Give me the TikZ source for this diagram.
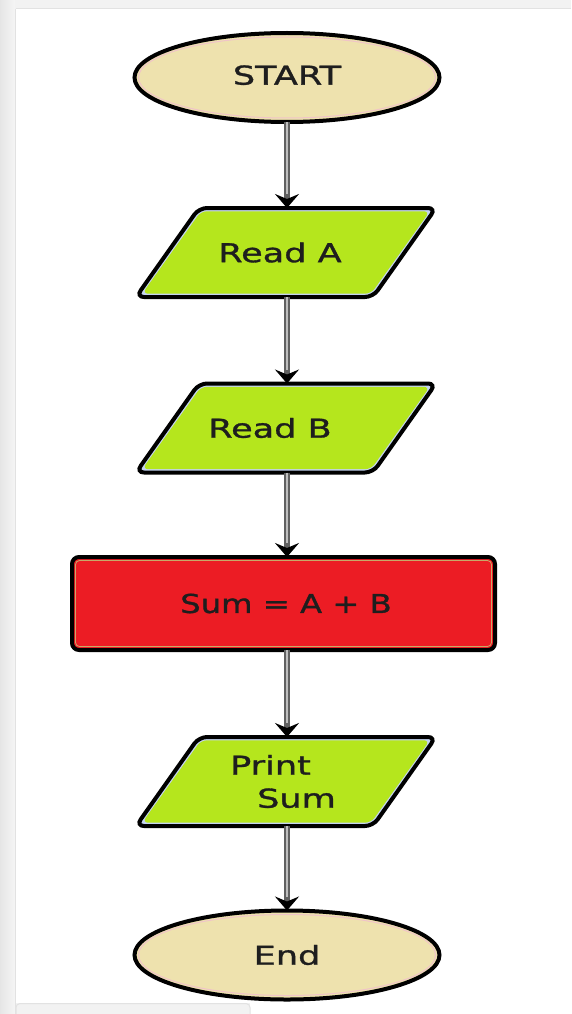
\documentclass[tikz,border=0pt]{standalone}
\usepackage{fontspec}
\setmainfont{DejaVu Sans}
\newfontfamily\dfont[FakeStretch=1.35,FakeBold=1.2]{DejaVu Sans}
\newfontfamily\dfontn[FakeStretch=1.24,FakeBold=1.2]{DejaVu Sans}
\usetikzlibrary{shapes.geometric,arrows.meta}
\definecolor{termfill}{HTML}{EEE2AE}
\definecolor{termedge}{HTML}{F0C4C8}
\definecolor{iofill}{HTML}{B5E61D}
\definecolor{ioedge}{HTML}{C4D4F0}
\definecolor{procfill}{HTML}{EC1C24}
\definecolor{procedge}{HTML}{C8A868}
\definecolor{shaftdark}{HTML}{606060}
\definecolor{shaftlight}{HTML}{BEBEBE}
\definecolor{textc}{HTML}{1E1E1E}
\definecolor{framegray}{HTML}{F2F2F2}
\definecolor{frameline}{HTML}{E2E2E2}
\tikzset{
  term/.style={ellipse, minimum width=305pt, minimum height=89pt, inner sep=0pt, outer sep=0pt,
    draw=black, line width=4pt, fill=termfill, text=textc, font=\dfont\fontsize{26}{30}\selectfont},
  io/.style={rectangle, minimum width=237pt, minimum height=89pt, inner sep=0pt, outer sep=0pt,
    text=textc, font=\dfont\fontsize{26}{33}\selectfont},
  proc/.style={rectangle, rounded corners=7pt, minimum width=423pt, minimum height=93pt, inner sep=0pt,
    outer sep=0pt, draw=black, line width=4pt, fill=procfill, text=textc, font=\dfontn\fontsize{26}{30}\selectfont},
  arr/.style={draw=shaftdark, line width=5.5pt, -{Stealth[black, width=24pt, length=14pt, inset=5pt]},
    postaction={draw=shaftlight, line width=2.2pt, -, shorten >=14pt}},
}
\newcommand\paragram[1]{%
  \begin{scope}[shift={(#1)}]
    \draw[line width=4pt, rounded corners=8pt, fill=ioedge]
      (-87,-44.5) -- (150,-44.5) -- (87,44.5) -- (-150,44.5) -- cycle;
    \fill[iofill, rounded corners=6pt]
      (-85.0,-41.2) -- (143.8,-41.2) -- (85.0,41.2) -- (-143.8,41.2) -- cycle;
  \end{scope}}
\begin{document}
\begin{tikzpicture}[x=1pt, y=-1pt]
\useasboundingbox (0,0) rectangle (571,1014);
% screenshot frame
\fill[framegray] (0,0) rectangle (571,1014);
\shade[left color=black!10, right color=black!4] (0,0) rectangle (15,1014);
\fill[white] (16,9) rectangle (571,1003);
\fill[white] (250,1003) rectangle (571,1014);
\draw[frameline, line width=1pt] (16,8.5) -- (571,8.5);
\draw[frameline, line width=1pt] (15.5,9) -- (15.5,1014);
\draw[frameline, line width=1pt, fill=framegray, rounded corners=4pt] (16,1014) -- (16,1003.5) -- (250,1003.5) -- (250,1014);

% shapes of the input/output boxes
\paragram{286,252.5}
\paragram{286,428}
\paragram{286,781.5}

% nodes
\node[term] (start) at (287,77.5) {\raisebox{5pt}{START}};
\node[io] (ra) at (286,252.5) {\hspace*{-12pt}Read A};
\node[io] (rb) at (286,428) {\hspace*{-32pt}Read B};
\node[proc] (sum) at (283.5,603.5) {\hspace*{5pt}Sum = A + B};
\node[io, align=left] (ps) at (286,781.5) {\hspace*{-6pt}Print\\\hspace*{21pt}Sum};
\node[term] (end) at (287,955) {End};

% inner edge lines
\draw[termedge, line width=1pt] (start.center) ellipse (148.5pt and 40.5pt);
\draw[termedge, line width=1pt] (end.center) ellipse (148.5pt and 40.5pt);
\draw[procedge, line width=0.8pt, rounded corners=4pt] (75.5,560.5) rectangle (491.5,646.5);

% connectors
\draw[arr] (start.south) -- (ra.north -| start.south);
\draw[arr] (ra.south -| start.south) -- (rb.north -| start.south);
\draw[arr] (rb.south -| start.south) -- (sum.north -| start.south);
\draw[arr] (sum.south -| start.south) -- (ps.north -| start.south);
\draw[arr] (ps.south -| start.south) -- (end.north);
\end{tikzpicture}
\end{document}
